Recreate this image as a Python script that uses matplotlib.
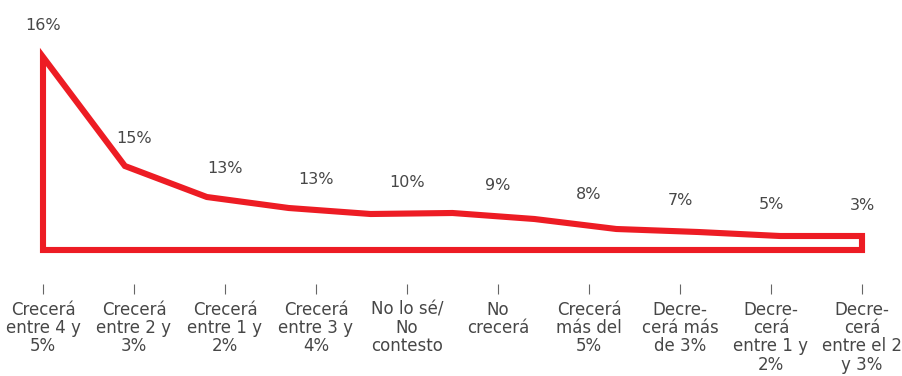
import numpy as np
import matplotlib
matplotlib.use("Agg")
import matplotlib.pyplot as plt

categories = ["Crecerá\nentre 4 y\n5%", "Crecerá\nentre 2 y\n3%", "Crecerá\nentre 1 y\n2%",
              "Crecerá\nentre 3 y\n4%", "No lo sé/\nNo\ncontesto", "No\ncrecerá",
              "Crecerá\nmás del\n5%", "Decre-\ncerá más\nde 3%", "Decre-\ncerá\nentre 1 y\n2%",
              "Decre-\ncerá\nentre el 2\ny 3%"]
pct_labels = ["16%", "15%", "13%", "13%", "10%", "9%", "8%", "7%", "5%", "3%"]
# profile of the red outline (chart units, as drawn)
line_values = [193, 84, 53, 42, 36, 37, 31, 21, 18, 14, 14]

RED = "#ED1C24"
TXT = "#474747"
FONT = "DejaVu Sans"

fig = plt.figure(figsize=(9.02, 3.76), dpi=100)
ax = fig.add_axes([0, 92 / 376, 1, 284 / 376])
ax.set_xlim(-43 / 91, (902 - 43) / 91)
ax.set_ylim(-34, 250)

n_cat = len(categories)
cat_x = np.arange(n_cat)
line_x = np.linspace(0, n_cat - 1, len(line_values))

poly_x = np.concatenate([line_x, [line_x[-1], line_x[0]]])
poly_y = np.concatenate([line_values, [0, 0]])
ax.fill(poly_x, poly_y, facecolor="white", edgecolor=RED, linewidth=4.4,
        joinstyle="miter", closed=True)

label_y = np.interp(cat_x, line_x, line_values)
for x, y, t in zip(cat_x, label_y, pct_labels):
    ax.text(x, y + 31, t, ha="center", va="center", fontsize=11.5,
            color=TXT, family=FONT)

for s in ax.spines.values():
    s.set_visible(False)
ax.set_yticks([])
ax.set_xticks(cat_x)
ax.set_xticklabels(categories, fontsize=12, color=TXT, family=FONT,
                   linespacing=1.02, va="top", ha="center")
ax.tick_params(axis="x", direction="out", length=7, width=0.8, color="#666666", pad=5)

fig.savefig("out.png", dpi=100)
